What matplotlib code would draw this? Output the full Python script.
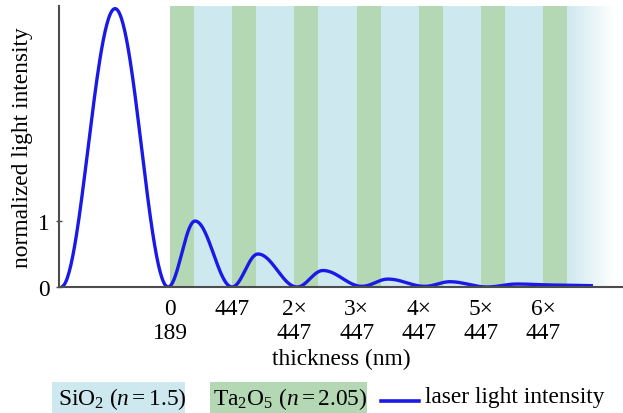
import numpy as np
import matplotlib
matplotlib.use("Agg")
import matplotlib.pyplot as plt
from matplotlib.patches import Rectangle
from matplotlib.lines import Line2D

plt.rcParams['font.family'] = ['Liberation Serif', 'DejaVu Serif']
plt.rcParams['mathtext.fontset'] = 'custom'
plt.rcParams['mathtext.rm'] = 'Liberation Serif'
plt.rcParams['mathtext.it'] = 'Liberation Serif:italic'

# ---- data ----
period_nm = 447
ta2o5_width_nm = 173
band_starts = [0, 447, 894, 1341, 1788, 2235, 2682]
stack_end = 2855
fade_end = 3190
tick_labels = ["0\n189", "447", "2×\n447", "3×\n447", "4×\n447", "5×\n447", "6×\n447"]

# extrema of the laser intensity curve (thickness nm, normalized intensity)
curve_x = [-783, -395, -14, 180, 446, 632, 913, 1099, 1380, 1567, 1832, 2012, 2278, 2494, 2767, 3040]
curve_y = [0.0, 4.22, 0.0, 1.0, 0.0, 0.50, 0.0, 0.25, 0.01, 0.12, 0.01, 0.08, 0.0, 0.045, 0.03, 0.02]

ytick_vals = [0, 1]
xlim = (-798, 3256)
ylim = (0, 4.26)

c_green = '#b3d8b3'
c_blue = '#cee8ef'
c_line = '#1a1ae6'
c_axis = '#4d4d4d'
fs = 16.8

W, H = 623, 414
fig = plt.figure(figsize=(W / 100, H / 100), dpi=100)
ax = fig.add_axes([59 / W, 1 - 288 / H, (W - 59) / W, (288 - 7) / H])
ax.set_xlim(*xlim)
ax.set_ylim(*ylim)

# SiO2 background
ax.axvspan(0, stack_end, color=c_blue, lw=0, zorder=0)
# fading tail
rgb_b = np.array(matplotlib.colors.to_rgb(c_blue))
t = np.linspace(0, 1, 256)
grad = (rgb_b[None, :] * (1 - t[:, None]) + np.ones(3)[None, :] * t[:, None])[None, :, :]
ax.imshow(grad, extent=[stack_end, fade_end, ylim[0], ylim[1]], aspect='auto', zorder=0,
          interpolation='bilinear')
# Ta2O5 layers
for s in band_starts:
    ax.axvspan(s, s + ta2o5_width_nm, color=c_green, lw=0, zorder=1)

# smooth curve through the extrema (cosine easing between consecutive extrema)
xs, ys = [], []
for i in range(len(curve_x) - 1):
    u = np.linspace(0, 1, 60, endpoint=False)
    e = (1 - np.cos(np.pi * u)) / 2
    xs.append(curve_x[i] + (curve_x[i + 1] - curve_x[i]) * u)
    ys.append(curve_y[i] + (curve_y[i + 1] - curve_y[i]) * e)
xs.append([curve_x[-1]]); ys.append([curve_y[-1]])
ax.plot(np.concatenate(xs), np.concatenate(ys), color=c_line, lw=2.4, zorder=3,
        solid_capstyle='butt')

ax.set_ylim(*ylim)
ax.set_xlim(*xlim)
for sp in ['top', 'right']:
    ax.spines[sp].set_visible(False)
for sp in ['left', 'bottom']:
    ax.spines[sp].set_color(c_axis)
    ax.spines[sp].set_linewidth(1.5)
    ax.spines[sp].set_zorder(4)

ax.set_yticks(ytick_vals)
ax.set_yticklabels([str(v) for v in ytick_vals], fontsize=fs)
ax.tick_params(axis='y', direction='inout', length=5, width=1.0, color=c_axis, pad=4)
ax.set_xticks(band_starts)
ax.set_xticklabels(tick_labels, fontsize=fs, linespacing=1.15)
ax.tick_params(axis='x', length=0, pad=8)
ax.set_xlabel('thickness (nm)', fontsize=fs, labelpad=4)
ax.set_ylabel('normalized light intensity', fontsize=fs, labelpad=4)

# legend drawn in figure pixels
def fx(px):
    return px / W
def fy(py):
    return 1 - py / H

fig.patches.append(Rectangle((fx(52), fy(414)), (185 - 52) / W, (414 - 383) / H,
                             transform=fig.transFigure, color=c_blue, lw=0))
fig.text(fx(58), fy(399), r'SiO$_2$ $(n = 1.5)$', fontsize=fs, va='center', ha='left')
fig.patches.append(Rectangle((fx(210), fy(414)), (367 - 210) / W, (414 - 383) / H,
                             transform=fig.transFigure, color=c_green, lw=0))
fig.text(fx(213), fy(399), r'Ta$_2$O$_5$ $(n = 2.05)$', fontsize=fs, va='center', ha='left')
fig.lines.append(Line2D([fx(381), fx(419)], [fy(402), fy(402)], transform=fig.transFigure,
                        color=c_line, lw=2.6))
fig.text(fx(425), fy(398), 'laser light intensity', fontsize=fs, va='center', ha='left')

fig.savefig('out.png', dpi=100)
